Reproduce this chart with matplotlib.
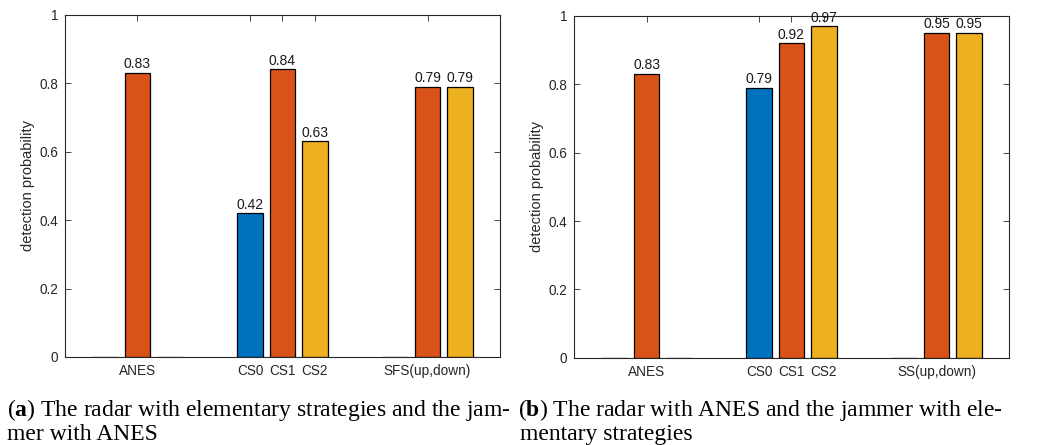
import matplotlib.pyplot as plt
import numpy as np

# detection probability per strategy group (series: CS0 / CS1 / CS2 colours)
groups = [1, 2, 3]
a_s0 = [0.0, 0.42, 0.0]
a_s1 = [0.83, 0.84, 0.79]
a_s2 = [0.0, 0.63, 0.79]
b_s0 = [0.0, 0.79, 0.0]
b_s1 = [0.83, 0.92, 0.95]
b_s2 = [0.0, 0.97, 0.95]

a_ticklabels = ['ANES', 'CS0', 'CS1', 'CS2', 'SFS(up,down)']
b_ticklabels = ['ANES', 'CS0', 'CS1', 'CS2', 'SS(up,down)']
yticks = [0, 0.2, 0.4, 0.6, 0.8, 1]

colors = ['#0072BD', '#D95319', '#EDB120']
axcol = '#262626'

plt.rcParams['font.family'] = ['Liberation Sans', 'DejaVu Sans']
plt.rcParams['mathtext.fontset'] = 'custom'
plt.rcParams['mathtext.bf'] = 'Liberation Serif:bold'
plt.rcParams['mathtext.rm'] = 'Liberation Serif'

fig = plt.figure(figsize=(10.38, 4.45), dpi=100)


def draw(ax, series, ticklabels):
    gw = min(0.8, 3 / 4.5)
    step = gw / 3
    w = step * 0.8
    x = np.array(groups, dtype=float)
    for i, vals in enumerate(series):
        xs = x + (i - 1) * step
        ax.bar(xs, vals, width=w, color=colors[i], edgecolor='black', linewidth=0.9, zorder=2)
        for xi, v in zip(xs, vals):
            if v > 0:
                ax.text(xi, v + 0.004, '%.2f' % v, ha='center', va='bottom', fontsize=10, color='#1a1a1a')
    ticks = [1, 2 - step, 2, 2 + step, 3]
    ax.set_xticks(ticks)
    ax.set_xticklabels(ticklabels, fontsize=9.8, color=axcol)
    ax.set_xlim(0.5, 3.5)
    ax.set_ylim(0, 1)
    ax.set_yticks(yticks)
    ax.set_yticklabels(['%g' % t for t in yticks], fontsize=9.8, color=axcol)
    ax.tick_params(direction='in', length=4, width=0.6, color=axcol, top=True, right=True, pad=5)
    for s in ax.spines.values():
        s.set_color(axcol)
        s.set_linewidth(0.8)
    ax.set_ylabel('detection probability', fontsize=10.5, color=axcol, labelpad=3)


ax1 = fig.add_axes([0.0626, 0.1978, 0.4191, 0.7693])
draw(ax1, [a_s0, a_s1, a_s2], a_ticklabels)
ax2 = fig.add_axes([0.553, 0.1956, 0.419, 0.7693])
draw(ax2, [b_s0, b_s1, b_s2], b_ticklabels)

cap = dict(family=['Liberation Serif', 'DejaVu Serif'], fontsize=17, color='black', va='baseline')
fig.text(0.007, 0.065, r'($\mathbf{a}$) The radar with elementary strategies and the jam-', **cap)
fig.text(0.007, 0.011, 'mer with ANES', **cap)
fig.text(0.499, 0.065, r'($\mathbf{b}$) The radar with ANES and the jammer with ele-', **cap)
fig.text(0.501, 0.011, 'mentary strategies', **cap)

fig.savefig('out.png', dpi=100)
